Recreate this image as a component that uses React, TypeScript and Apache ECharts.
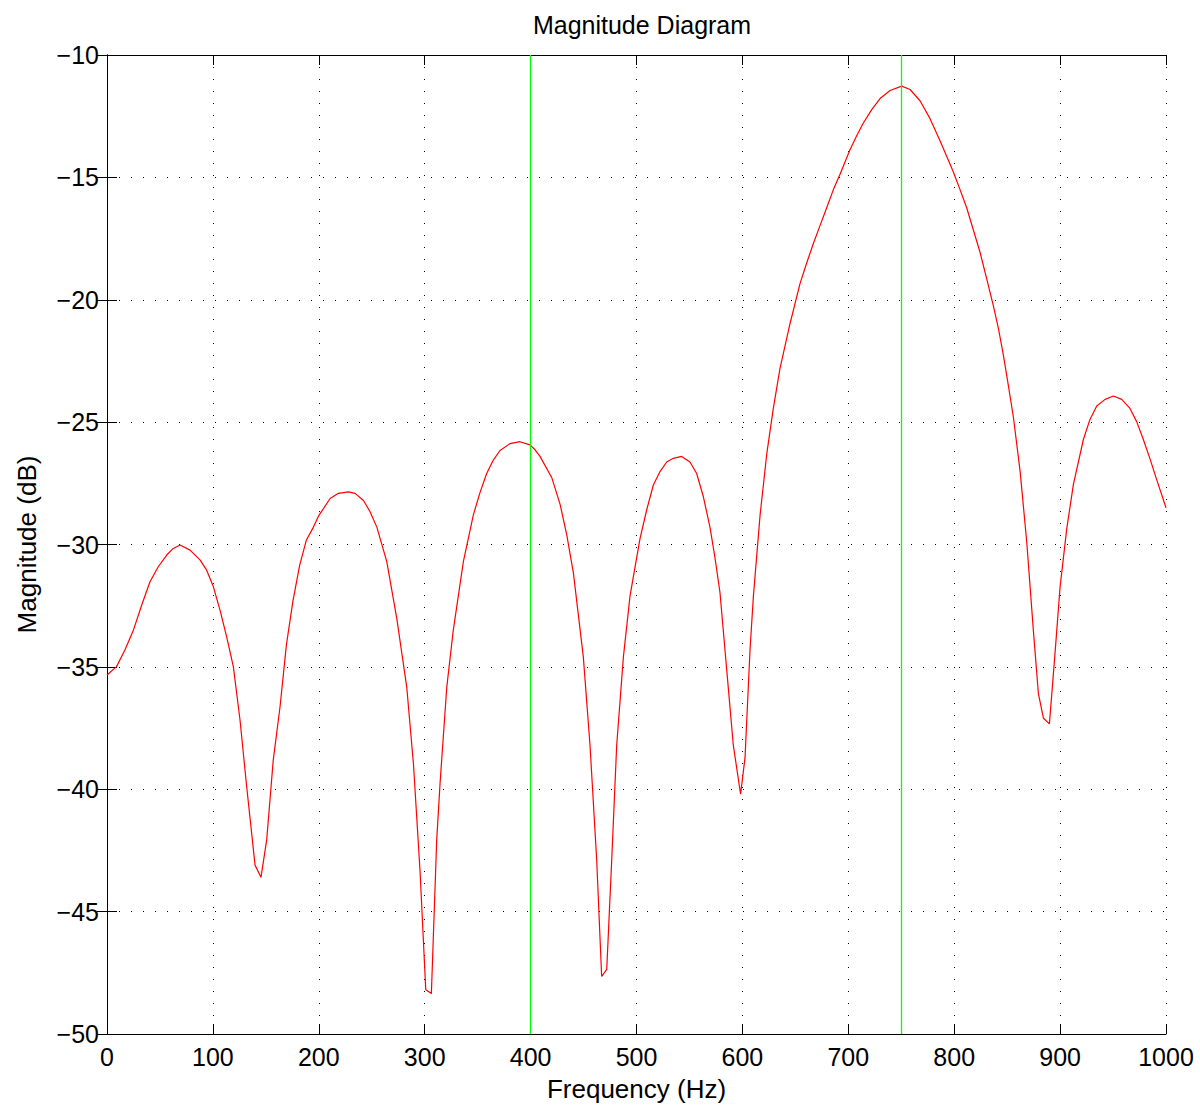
import React, { useEffect, useRef } from "react";
import * as echarts from "echarts";

const freqHz = [
  0, 9, 17, 25, 32.7, 40.6, 48.4, 56.4, 62.6, 69, 78.4, 87.8, 94.1, 100.4, 106.7, 113, 119.3,
  125.6, 131.9, 139.8, 145.4, 150.8, 157, 163.4, 169.4, 175.6, 181.9, 188.2, 194.8, 200, 210.7,
  218.5, 228, 234.2, 242.2, 248.4, 254.8, 264.2, 273.7, 283.1, 289.4, 295.6, 301, 306.3, 311.3,
  314.5, 320.8, 327, 336.5, 345.9, 352.2, 358.5, 364.8, 371.1, 380.5, 390, 399.4, 404.2, 408.9,
  419.9, 427.8, 434.1, 440.4, 449.8, 456.1, 462.4, 467.1, 471.9, 476.6, 481.3, 487.6, 493.9,
  503.3, 509.6, 515.9, 522.2, 528.5, 534.8, 542.6, 550.5, 556.8, 563.1, 569.4, 574.1, 578.8,
  585.1, 591.4, 598.3, 602.5, 607.2, 610.4, 616.7, 623, 629.2, 635.5, 645, 654.4, 660.7, 667,
  673.3, 679.6, 685.9, 692.2, 701.6, 707.9, 714.2, 722.1, 730, 739.4, 750.4, 758.3, 767.7,
  777.2, 786.6, 792.9, 799.2, 805.5, 811.8, 818.1, 824.4, 830.7, 837, 841.7, 846.4, 851.2,
  855.9, 862.2, 868.5, 874.8, 879.5, 884.3, 889.9, 895.2, 900, 906.3, 912.6, 922, 928.2, 934.6,
  942.5, 950.3, 958.2, 966, 972.3, 978.6, 984.9, 991.2, 1000,
];

const magnitudeDb = [
  -35.33, -34.99, -34.3, -33.49, -32.48, -31.52, -30.91, -30.43, -30.16, -30.02, -30.23, -30.63,
  -31.05, -31.72, -32.68, -33.77, -34.99, -37.17, -39.9, -43.1, -43.6, -42.07, -38.8, -36.63,
  -34.1, -32.3, -30.85, -29.83, -29.3, -28.82, -28.12, -27.91, -27.85, -27.91, -28.2, -28.66,
  -29.29, -30.7, -33.04, -35.85, -38.98, -43.35, -48.19, -48.35, -42.1, -39.76, -35.85, -33.5,
  -30.7, -28.8, -27.88, -27.1, -26.55, -26.16, -25.88, -25.8, -25.93, -26.13, -26.4, -27.26,
  -28.35, -29.6, -31.16, -34.6, -38.2, -42.88, -47.65, -47.36, -42.88, -38.2, -34.6, -32.1,
  -29.76, -28.59, -27.57, -27.02, -26.63, -26.48, -26.4, -26.63, -27.1, -28.04, -29.3, -30.54,
  -31.95, -35.07, -38.2, -40.2, -38.7, -34.3, -32.1, -28.8, -26.3, -24.44, -22.8, -20.97,
  -19.34, -18.5, -17.7, -16.97, -16.24, -15.5, -14.87, -13.87, -13.3, -12.78, -12.23, -11.78,
  -11.45, -11.27, -11.41, -11.87, -12.6, -13.5, -14.14, -14.78, -15.5, -16.24, -17.15, -18.06,
  -19.15, -20.25, -21.16, -22.25, -23.52, -24.8, -26.99, -29.9, -33.54, -36.09, -37.1, -37.33,
  -34.45, -31.72, -29.35, -27.53, -25.71, -24.89, -24.34, -24.07, -23.93, -24.07, -24.44,
  -24.98, -25.71, -26.5, -27.35, -28.5,
];

const markerFreqs = [400, 750];

const FONT = "Liberation Sans";
const minusFmt = (v: number) => String(v).replace("-", "\u2212");

export default function App() {
  const ref = useRef<HTMLDivElement>(null);

  useEffect(() => {
    if (!ref.current) return;
    const chart = echarts.init(ref.current, undefined, { renderer: "svg" });
    const axisLine = { show: true, lineStyle: { color: "#000", width: 1 } };
    const tick = { show: true, inside: true, length: 10, lineStyle: { color: "#000", width: 1 } };
    const dotted = { show: true, lineStyle: { color: "#000", width: 1, type: [1, 11] as any } };
    chart.setOption({
      animation: false,
      backgroundColor: "#fff",
      title: {
        text: "Magnitude Diagram",
        left: 637,
        top: 7,
        textAlign: "center",
        textStyle: { fontFamily: FONT, fontSize: 25, fontWeight: "normal", color: "#000" },
      },
      grid: { left: 107, right: 34, top: 55, bottom: 74, containLabel: false },
      xAxis: [
        {
          type: "value",
          min: 0,
          max: 1000,
          interval: 100,
          position: "bottom",
          name: "Frequency (Hz)",
          nameLocation: "middle",
          nameGap: 42,
          nameTextStyle: { fontFamily: FONT, fontSize: 26, color: "#000" },
          axisLine,
          axisTick: tick,
          splitLine: dotted,
          axisLabel: { fontFamily: FONT, fontSize: 25, color: "#000", margin: 10, formatter: minusFmt },
        },
        {
          type: "value",
          min: 0,
          max: 1000,
          interval: 100,
          position: "top",
          axisLine,
          axisTick: tick,
          splitLine: { show: false },
          axisLabel: { show: false },
        },
      ],
      yAxis: [
        {
          type: "value",
          min: -50,
          max: -10,
          interval: 5,
          position: "left",
          name: "Magnitude (dB)",
          nameLocation: "middle",
          nameGap: 67,
          nameRotate: 90,
          nameTextStyle: { fontFamily: FONT, fontSize: 26, color: "#000" },
          axisLine,
          axisTick: tick,
          splitLine: dotted,
          axisLabel: { fontFamily: FONT, fontSize: 25, color: "#000", margin: 8, formatter: minusFmt },
        },
        {
          type: "value",
          min: -50,
          max: -10,
          interval: 5,
          position: "right",
          axisLine,
          axisTick: tick,
          splitLine: { show: false },
          axisLabel: { show: false },
        },
      ],
      series: [
        {
          type: "line",
          data: freqHz.map((f, i) => [f, magnitudeDb[i]]),
          showSymbol: false,
          symbol: "none",
          lineStyle: { color: "#ff0000", width: 1.2 },
          markLine: {
            silent: true,
            symbol: "none",
            label: { show: false },
            lineStyle: { color: "#00ff00", width: 1.3, type: "solid" },
            data: markerFreqs.map((f) => ({ xAxis: f })),
          },
        },
      ],
    });
    return () => chart.dispose();
  }, []);

  return (
    <div
      ref={ref}
      style={{ position: "fixed", left: 0, top: 0, width: 1200, height: 1108, background: "#fff" }}
    />
  );
}
